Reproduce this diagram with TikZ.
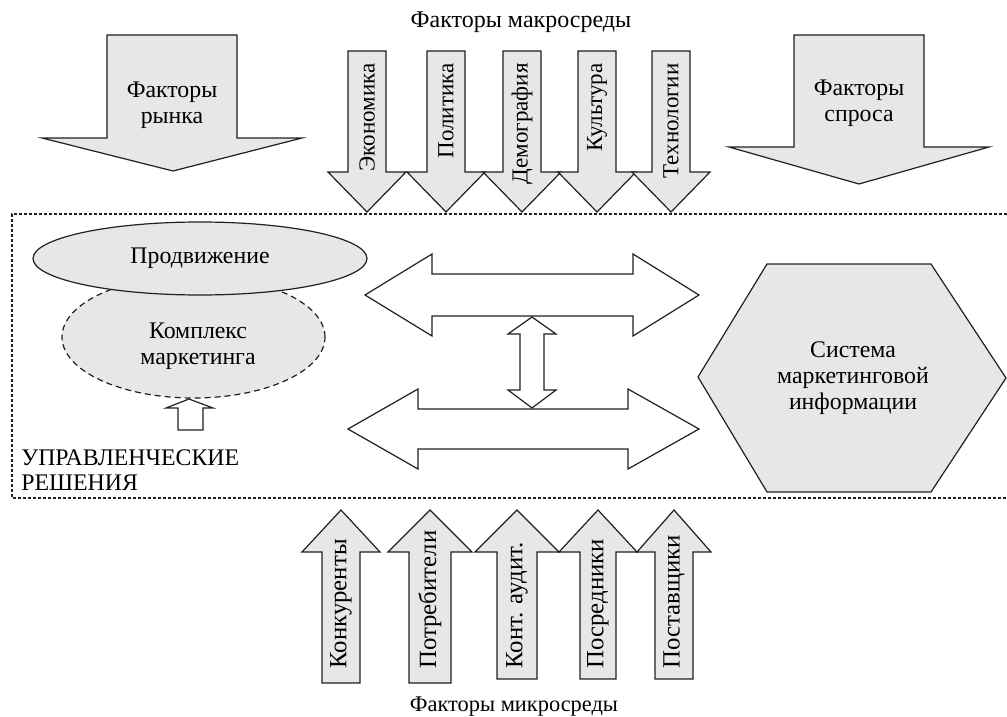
\documentclass[tikz,border=0pt]{standalone}
\usepackage{fontspec}
\setmainfont{Liberation Serif}
\usetikzlibrary{shapes.geometric}
\definecolor{shape_gray}{RGB}{230,231,232}
\definecolor{line_dark}{RGB}{35,31,32}

\begin{document}
\begin{tikzpicture}[x=0.5pt,y=-0.5pt,font=\fontsize{11.9}{13}\selectfont]
    \tikzstyle{blk}=[draw=line_dark, fill=shape_gray, line width=0.6pt]
    \tikzstyle{hollow}=[draw=line_dark, fill=white, line width=0.6pt]
    \tikzstyle{frame}=[draw=line_dark, line width=0.6pt, dash pattern=on 1.6pt off 0.9pt]
    \tikzstyle{lbl}=[text=black, align=center, inner sep=0pt]
    \tikzstyle{vlbl}=[text=black, rotate=90, inner sep=0pt]

    \useasboundingbox (0,0) rectangle (1007,717);

    % management frame (right side runs off the page)
    \draw[frame] (1007,214) -- (12,214) -- (12,498) -- (1007,498);

    % big arrows: market and demand
    \draw[blk] (107,35) -- (237,35) -- (237,138) -- (302,138) -- (173,171) -- (42,138) -- (107,138) -- cycle;
    \draw[blk] (794,35) -- (924,35) -- (924,147) -- (989,147) -- (859,184) -- (729,147) -- (794,147) -- cycle;
    \node[lbl] (market) at (172,105) {Факторы\\рынка};
    \node[lbl] (demand) at (859,103) {Факторы\\спроса};

    % macro environment
    \node[lbl, anchor=base, font=\fontsize{12}{13}\selectfont] (macro) at (521,28) {Факторы макросреды};
    \foreach \cx/\lab [count=\i] in {367/Экономика, 446/Политика, 522/Демография, 597/Культура, 671/Технологии} {
        \draw[blk] (\cx-19,51) -- (\cx+19,51) -- (\cx+19,172) -- (\cx+39,172) -- (\cx,212) -- (\cx-39,172) -- (\cx-19,172) -- cycle;
        \node[vlbl, anchor=east, font=\fontsize{11.5}{13}\selectfont] (macro\i) at (\cx,63) {\lab};
    }

    % marketing mix
    \node[blk, ellipse, dash pattern=on 3pt off 2pt, minimum width=131.5pt, minimum height=61pt, inner sep=0pt] (mix) at (193.5,337) {};
    \node[lbl] (mixtext) at (198,346) {Комплекс\\маркетинга};
    \node[blk, ellipse, minimum width=167pt, minimum height=36.5pt, inner sep=0pt] (promo) at (200,258.5) {Продвижение};
    \draw[hollow] (178,430) -- (178,408) -- (166,408) -- (189,399) -- (213,408) -- (203,408) -- (203,430) -- cycle;
    \node[lbl, anchor=base west] (dec1) at (21,465) {УПРАВЛЕНЧЕСКИЕ};
    \node[lbl, anchor=base west] (dec2) at (21,490) {РЕШЕНИЯ};

    % information flows
    \draw[hollow] (365,295) -- (432,254) -- (432,274) -- (633,274) -- (633,254) -- (699,295) -- (633,336) -- (633,316) -- (432,316) -- (432,336) -- cycle;
    \draw[hollow] (348,429) -- (418,389) -- (418,409) -- (628,409) -- (628,389) -- (699,429) -- (628,469) -- (628,449) -- (418,449) -- (418,469) -- cycle;
    \draw[hollow] (532,317) -- (556,334) -- (544,334) -- (544,390) -- (556,390) -- (532,408) -- (508,390) -- (520,390) -- (520,334) -- (508,334) -- cycle;

    % marketing information system
    \draw[blk] (767,264) -- (931,264) -- (1006,378) -- (931,492) -- (767,492) -- (698,377) -- cycle;
    \node[lbl] (mis) at (853,378) {Система\\маркетинговой\\информации};

    % micro environment
    \foreach \cx/\bt/\sh/\hh/\lab [count=\i] in {341/683/19/39/Конкуренты, 430/683/21/42/Потребители, 517/679/20/42/{Конт. аудит.}, 598/679/18/39/Посредники, 674/679/19/37/Поставщики} {
        \draw[blk] (\cx-\sh,\bt) -- (\cx-\sh,552) -- (\cx-\hh,552) -- (\cx,510) -- (\cx+\hh,552) -- (\cx+\sh,552) -- (\cx+\sh,\bt) -- cycle;
        \node[vlbl, anchor=west, font=\fontsize{12.4}{13}\selectfont] (micro\i) at (\cx,669) {\lab};
    }
    \node[lbl, anchor=base, font=\fontsize{11.2}{13}\selectfont] (micro) at (514,711) {Факторы микросреды};
\end{tikzpicture}
\end{document}
